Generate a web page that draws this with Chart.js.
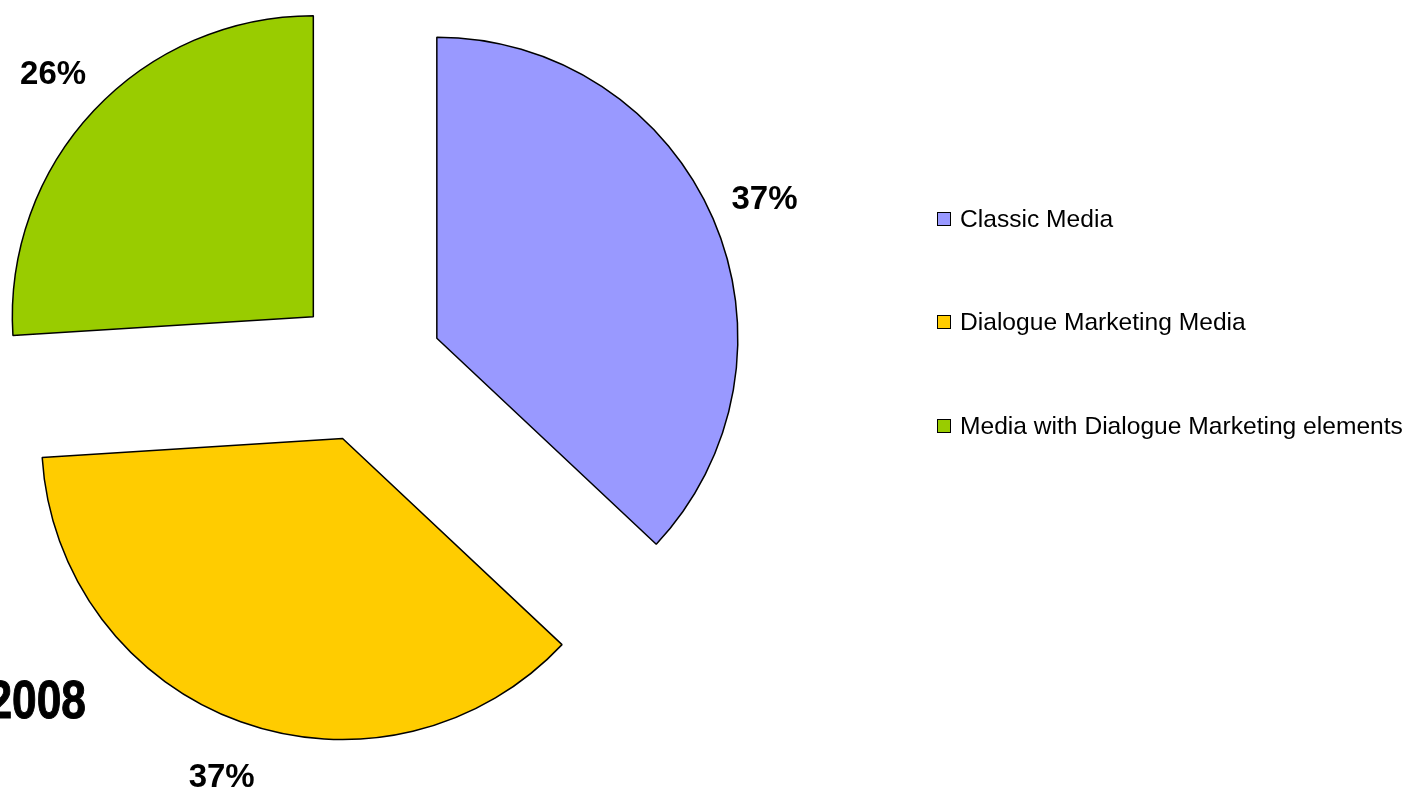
<!DOCTYPE html>
<html>
<head>
<meta charset="utf-8">
<script src="https://cdn.jsdelivr.net/npm/chart.js@4"></script>
<style>
  html, body { margin: 0; padding: 0; background: #FFFFFF; }
  #wrap { position: relative; width: 1422px; height: 793px; overflow: hidden; }
  #pieChart { position: absolute; left: 0; top: 0; }
  #legend { position: absolute; left: 937px; top: 0; font-family: "Liberation Sans", Arial, sans-serif; font-size: 24.6px; color: #000; }
  .item { position: absolute; left: 0; white-space: nowrap; display: flex; align-items: center; }
  .box { width: 12px; height: 12px; border: 1px solid #000; margin-right: 9px; }
</style>
</head>
<body>
<div id="wrap">
  <canvas id="pieChart" width="1422" height="793"></canvas>
  <div id="legend"></div>
</div>
<script>
const categories = ['Classic Media', 'Dialogue Marketing Media', 'Media with Dialogue Marketing elements'];
const shares = [37, 37, 26];   // Prozent
const colors = ['#9999FF', '#FFCC00', '#99CC00'];
const yearLabel = '2008';

const explode = 75;   // Abstand der Stücke vom Mittelpunkt

// Stücke selbst verschoben zeichnen (Chart.js teilt offset durch 4 und vergrössert den Radius)
const explodePlugin = {
    id: 'explodePlugin',
    beforeDatasetDraw: (chart, args) => {
        const ctx = chart.ctx;
        args.meta.data.forEach((arc) => {
            const mid = (arc.startAngle + arc.endAngle) / 2;
            ctx.save();
            ctx.translate(Math.cos(mid) * explode, Math.sin(mid) * explode);
            arc.draw(ctx);
            ctx.restore();
        });
        return false;
    }
};

// Prozentwerte aussen an die Stücke schreiben + Jahr
const labelPlugin = {
    id: 'labelPlugin',
    afterDatasetsDraw: (chart) => {
        const ctx = chart.ctx;
        const meta = chart.getDatasetMeta(0);
        ctx.save();
        ctx.fillStyle = '#000000';
        ctx.font = 'bold 33px "Liberation Sans", Arial, sans-serif';
        ctx.textAlign = 'center';
        ctx.textBaseline = 'middle';
        meta.data.forEach((arc, i) => {
            const mid = (arc.startAngle + arc.endAngle) / 2;
            const r = arc.outerRadius + explode + 56;
            ctx.fillText(shares[i] + '%', arc.x + Math.cos(mid) * r, arc.y + Math.sin(mid) * r + 3);
        });

        // Jahr unten links (schmal, angeschnitten)
        ctx.translate(86, 718);
        ctx.scale(0.82, 1);
        ctx.font = 'bold 54px "Liberation Sans", Arial, sans-serif';
        ctx.textAlign = 'right';
        ctx.textBaseline = 'alphabetic';
        ctx.lineWidth = 1;
        ctx.strokeStyle = '#000000';
        ctx.fillText(yearLabel, 0, 0);
        ctx.strokeText(yearLabel, 0, 0);
        ctx.restore();
    }
};

const ctx = document.getElementById('pieChart').getContext('2d');
const myChart = new Chart(ctx, {
    type: 'pie',
    data: {
        labels: categories,
        datasets: [{
            data: shares,
            backgroundColor: colors,
            borderColor: '#000000',
            borderWidth: 1.5,
            radius: 301,
            clip: false
        }]
    },
    options: {
        responsive: false,
        animation: false,
        layout: {
            padding: { left: 0, top: 0, right: 686, bottom: 57 }
        },
        plugins: {
            legend: { display: false },
            tooltip: { enabled: false }
        }
    },
    plugins: [explodePlugin, labelPlugin]
});

// HTML-Legende
const legendEl = document.getElementById('legend');
const rowY = [219, 322, 426];
myChart.options.plugins.legend.labels.generateLabels(myChart).forEach((item, i) => {
    const div = document.createElement('div');
    div.className = 'item';
    div.style.top = (rowY[i] - 15) + 'px';
    div.style.height = '30px';
    const box = document.createElement('span');
    box.className = 'box';
    box.style.background = item.fillStyle;
    const txt = document.createElement('span');
    txt.textContent = item.text;
    div.appendChild(box);
    div.appendChild(txt);
    legendEl.appendChild(div);
});
</script>
</body>
</html>
